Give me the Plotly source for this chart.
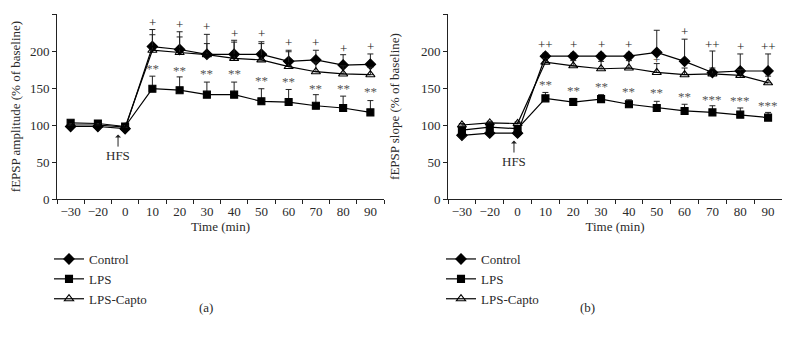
import plotly.graph_objects as go

times = ["\u221230", "\u221220", "0", "10", "20", "30", "40", "50", "60", "70", "80", "90"]
post_idx = list(range(3, 12))  # category positions of the post-HFS time points

# Panel (a): fEPSP amplitude
ctrl_a = [98, 98, 95, 206, 202, 195.5, 195.5, 195.5, 186, 188, 181, 182]
ctrl_a_err = [2, 2, 2, 23, 24, 27, 19, 17, 15, 13, 14, 14]
lps_a = [103, 102, 98, 149, 147, 141, 141, 132, 131, 126, 123, 117]
lps_a_err = [3, 3, 3, 17, 18, 17, 17, 17, 17, 15, 16, 16]
capto_a = [100, 100, 97, 201, 198, 195, 190, 188, 179, 172, 169, 168]
capto_a_err = [2, 2, 2, 21, 21, 15, 22, 22, 20, 13, 11, 10]

# Panel (b): fEPSP slope
ctrl_b = [86, 89, 89, 193, 193, 193, 193, 198, 186, 171, 173, 173]
ctrl_b_err = [2, 2, 2, 4, 4, 4, 4, 30, 30, 29, 23, 23]
lps_b = [93, 97, 95, 136, 131, 135, 128, 123, 119, 117, 114, 110]
lps_b_err = [3, 3, 3, 8, 5, 6, 6, 9, 9, 9, 9, 7]
capto_b = [100, 103, 102, 185, 180, 176, 177, 171, 168, 169, 167, 157]
capto_b_err = [2, 2, 2, 5, 7, 10, 10, 12, 9, 8, 8, 9]

# significance marks
plus_a_txt = ["+"] * 9
plus_a_y = [238, 236, 233, 224, 223, 211, 211, 204, 206]
star_a_txt = ["**"] * 9
star_a_y = [177, 174, 169, 169, 160, 159, 150, 150, 145]
plus_b_txt = ["++", "+", "+", "+", "+", "+", "++", "+", "++"]
plus_b_y = [209, 209, 209, 209, 189, 226, 209, 206, 206]
star_b_txt = ["**"] * 6 + ["***"] * 3
star_b_y = [155, 146, 152, 145, 144, 138, 135, 133, 127]

FONT = "Liberation Serif"
TXT = "#2a2a2a"
series_names = ["Control", "LPS", "LPS-Capto"]
symbols = ["diamond", "square", "triangle-up-open"]
sizes = [8, 7, 8]

# page has an 8px body margin: size the figure to fit and convert page pixels
W, H, OFF = 774, 328, 8
def px(x):
    return (x - OFF) / W
def py(y):
    return 1 - (y - OFF) / H

fig = go.Figure()

def add_panel(xa, ya, legend, data):
    for (name, sym, sz, (vals, errs)) in zip(series_names, symbols, sizes, data):
        fig.add_trace(go.Scatter(
            x=times, y=vals, name=name, mode="lines+markers",
            xaxis=xa, yaxis=ya, legend=legend,
            line=dict(color="black", width=1.2),
            marker=dict(symbol=sym, size=sz, color="black",
                        line=dict(color="black", width=1.1)),
            error_y=dict(type="data", symmetric=False, array=errs,
                         arrayminus=[0] * len(errs), color="#222",
                         thickness=1, width=3),
        ))

add_panel("x", "y", "legend", [(ctrl_a, ctrl_a_err), (lps_a, lps_a_err), (capto_a, capto_a_err)])
add_panel("x2", "y2", "legend2", [(ctrl_b, ctrl_b_err), (lps_b, lps_b_err), (capto_b, capto_b_err)])

annotations = []
for xr, yr, txts, ys, col in [("x", "y", plus_a_txt, plus_a_y, "#222"),
                              ("x", "y", star_a_txt, star_a_y, "#555"),
                              ("x2", "y2", plus_b_txt, plus_b_y, "#222"),
                              ("x2", "y2", star_b_txt, star_b_y, "#555")]:
    for t, x, y in zip(txts, post_idx, ys):
        annotations.append(dict(x=x, y=y, xref=xr, yref=yr, text=t, showarrow=False,
                                font=dict(family=FONT, size=13, color=col),
                                xanchor="center", yanchor="middle"))

# HFS arrows
annotations.append(dict(x=1.74, y=87, xref="x", yref="y", text="HFS", showarrow=True,
                        ax=0, ay=21, arrowhead=1, arrowsize=1, arrowwidth=1, arrowcolor="#222",
                        standoff=0, font=dict(family=FONT, size=13, color=TXT)))
annotations.append(dict(x=1.87, y=79, xref="x2", yref="y2", text="HFS", showarrow=True,
                        ax=0, ay=21, arrowhead=1, arrowsize=1, arrowwidth=1, arrowcolor="#222",
                        standoff=0, font=dict(family=FONT, size=13, color=TXT)))
# panel labels
annotations.append(dict(x=px(197), y=py(317), xref="paper", yref="paper", text="(a)",
                        showarrow=False, font=dict(family=FONT, size=13, color=TXT)))
annotations.append(dict(x=px(597), y=py(317), xref="paper", yref="paper", text="(b)",
                        showarrow=False, font=dict(family=FONT, size=13, color=TXT)))

xaxis_common = dict(type="category", categoryorder="array", categoryarray=times,
                    range=[-0.5, 11.5], tickson="boundaries", ticks="outside", ticklen=4,
                    tickangle=0,
                    tickcolor="#222", showline=True, linecolor="#222", linewidth=1,
                    showgrid=False, zeroline=False,
                    tickfont=dict(family=FONT, size=13, color=TXT),
                    title=dict(text="Time (min)", font=dict(family=FONT, size=13, color=TXT),
                               standoff=0),
                    automargin=False)
yaxis_common = dict(range=[0, 250], tickvals=[0, 50, 100, 150, 200, 250], ticks="outside",
                    ticklen=4, tickcolor="#222", showline=True, linecolor="#222", linewidth=1,
                    showgrid=False, zeroline=False,
                    tickfont=dict(family=FONT, size=13, color=TXT), automargin=False)

legend_common = dict(font=dict(family=FONT, size=13, color=TXT), bgcolor="rgba(0,0,0,0)",
                     xanchor="left", yanchor="top", tracegroupgap=0, itemclick=False)

fig.update_layout(
    width=W, height=H, margin=dict(l=0, r=0, t=0, b=0),
    paper_bgcolor="white", plot_bgcolor="white",
    xaxis=dict(domain=[px(57), px(384)], anchor="y", **xaxis_common),
    yaxis=dict(domain=[py(199), py(14)], anchor="x",
               title=dict(text="fEPSP amplitude (% of baseline)",
                          font=dict(family=FONT, size=13, color=TXT), standoff=21),
               **yaxis_common),
    xaxis2=dict(domain=[px(448), px(782)], anchor="y2", **xaxis_common),
    yaxis2=dict(domain=[py(199), py(14)], anchor="x2",
                title=dict(text="fEPSP slope (% of baseline)",
                           font=dict(family=FONT, size=13, color=TXT), standoff=18),
                **yaxis_common),
    legend=dict(x=px(49), y=py(244), **legend_common),
    legend2=dict(x=px(441), y=py(244), **legend_common),
    annotations=annotations,
    showlegend=True,
)

fig.write_html("out.html")
